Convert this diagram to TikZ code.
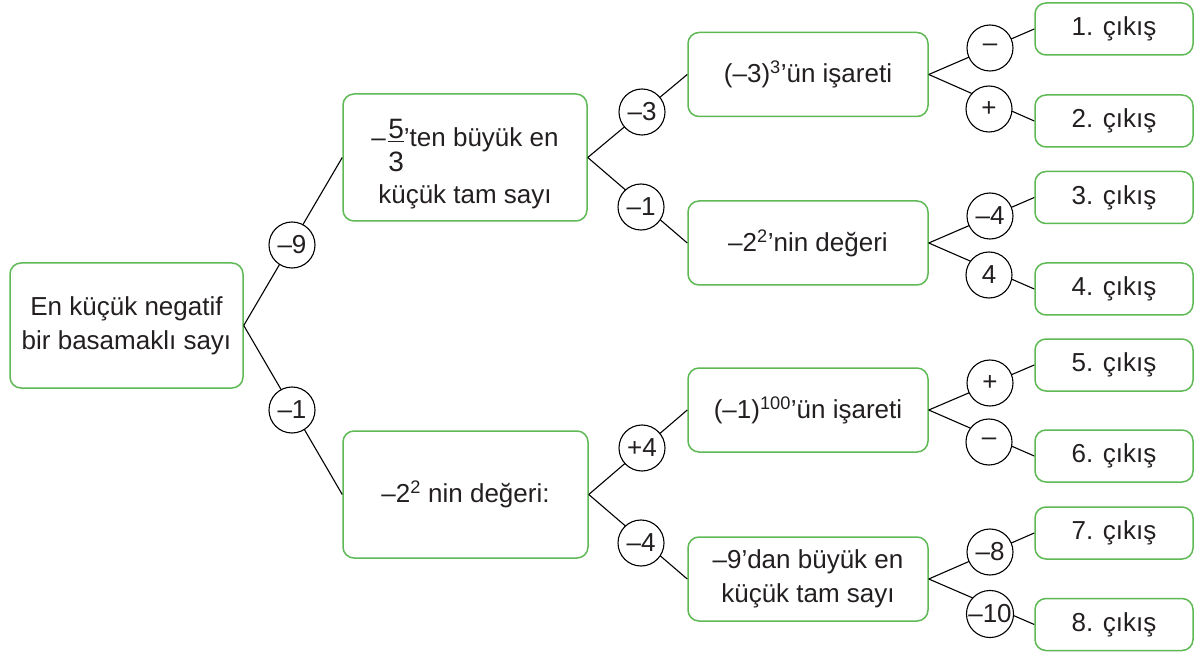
\documentclass[tikz,border=0pt]{standalone}
\usepackage{fontspec}
\setmainfont{Liberation Sans}
\definecolor{boxgreen}{RGB}{94,184,84}
\definecolor{txt}{RGB}{35,31,32}
\newcommand\fracfs[2]{\mbox{\fontsize{28}{28}\selectfont
  \rlap{\raisebox{8pt}{#1}}\rlap{\raisebox{4.5pt}{\rule{15.6pt}{1.2pt}}}\raisebox{-25pt}{#2}}}
\tikzset{
  gbox/.style={draw=boxgreen, line width=1.5pt, rounded corners=11pt, inner sep=0pt,
    align=center, text=txt, font=\fontsize{26}{34}\selectfont},
  sbox/.style={gbox, minimum width=240pt, minimum height=84pt},
  leaf/.style={gbox, minimum width=158pt, minimum height=52pt},
  circ/.style={circle, draw=black, line width=1.1pt, fill=white, minimum size=46pt,
    inner sep=0pt, text=txt, font=\fontsize{26}{30}\selectfont},
  conn/.style={draw=black, line width=1.1pt},
}
\begin{document}
\begin{tikzpicture}[x=1pt,y=-1pt]
\useasboundingbox (0,0) rectangle (1195,655);
% boxes
\node[gbox, minimum width=233pt, minimum height=125pt] (root) at (126.5,325.5)
  {En küçük negatif\\bir basamaklı sayı};
\node[gbox, minimum width=244pt, minimum height=127pt] (A) at (465,157.5)
  {\rule{0pt}{40.5pt}–\kern2.5pt\fracfs{5}{3}’ten büyük en\\[12pt]küçük tam sayı};
\node[gbox, minimum width=245pt, minimum height=127pt] (B) at (465.5,494.5)
  {–2\textsuperscript{2} nin değeri:};
\node[sbox] (C) at (808,74.5) {(–3)\textsuperscript{3}’ün işareti};
\node[sbox] (D) at (808,243) {–2\textsuperscript{2}’nin değeri};
\node[sbox] (E) at (808,410) {(–1)\textsuperscript{100}’ün işareti};
\node[sbox] (F) at (808,579) {–9’dan büyük en\\küçük tam sayı};
\node[leaf] (o1) at (1114,29) {1. çıkış};
\node[leaf] (o2) at (1114,121) {2. çıkış};
\node[leaf] (o3) at (1114,197.5) {3. çıkış};
\node[leaf] (o4) at (1114,289) {4. çıkış};
\node[leaf] (o5) at (1114,365) {5. çıkış};
\node[leaf] (o6) at (1114,456) {6. çıkış};
\node[leaf] (o7) at (1114,533) {7. çıkış};
\node[leaf] (o8) at (1114,624.5) {8. çıkış};
% connectors
\draw[conn] (root.east) -- (A.west);
\draw[conn] (root.east) -- (B.west);
\draw[conn] (A.east) -- (C.west);
\draw[conn] (A.east) -- (D.west);
\draw[conn] (B.east) -- (E.west);
\draw[conn] (B.east) -- (F.west);
\draw[conn] (C.east) -- (o1.west);
\draw[conn] (C.east) -- (o2.west);
\draw[conn] (D.east) -- (o3.west);
\draw[conn] (D.east) -- (o4.west);
\draw[conn] (E.east) -- (o5.west);
\draw[conn] (E.east) -- (o6.west);
\draw[conn] (F.east) -- (o7.west);
\draw[conn] (F.east) -- (o8.west);
% circle labels
\node[circ] (c1) at (292,245) {–9};
\node[circ] (c2) at (292,410) {–1};
\node[circ] (c3) at (642,112) {–3};
\node[circ] (c4) at (641,207) {–1};
\node[circ] (c5) at (642,448) {+4};
\node[circ] (c6) at (641,543) {–4};
\node[circ] (c7) at (990,48) {–};
\node[circ] (c8) at (989,109) {+};
\node[circ] (c9) at (990,216) {–4};
\node[circ] (c10) at (989,275) {4};
\node[circ] (c11) at (990,383) {+};
\node[circ] (c12) at (989,442) {–};
\node[circ] (c13) at (990,552) {–8};
\node[circ] (c14) at (990,614) {–10};
\end{tikzpicture}
\end{document}
